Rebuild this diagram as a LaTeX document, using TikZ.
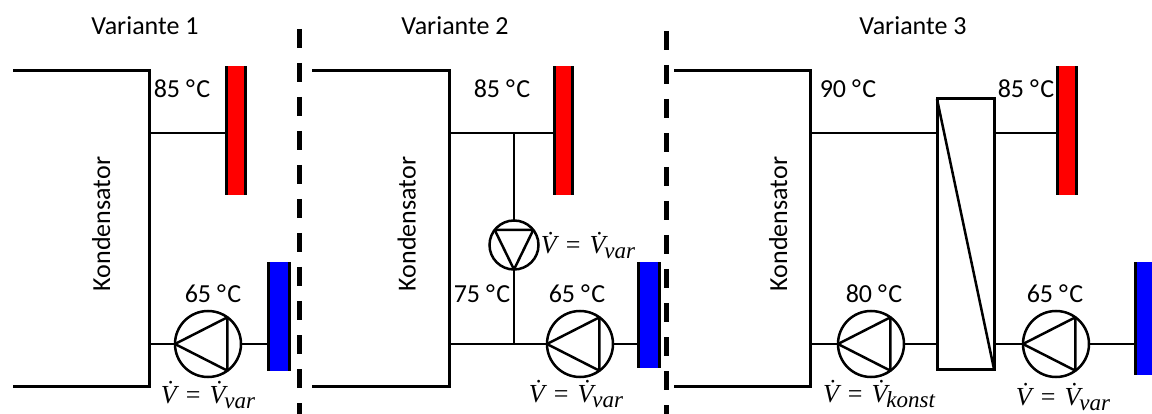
\documentclass[tikz,border=0pt]{standalone}
\usepackage{fontspec}
\setmainfont{Carlito}
\newfontfamily\flowfont{Liberation Serif}
\newcommand{\dotV}{\makebox[0pt][l]{\kern5.5pt\raisebox{4.5pt}{\upshape ˙}}V}
\newcommand{\flowtxt}[1]{{\flowfont\itshape\dotV\hspace{9pt}\upshape=\hspace{9pt}\itshape\dotV\hspace{-1pt}\raisebox{-5pt}{\fontsize{23}{26}\selectfont #1}}}
\newcommand{\degC}{°\kern1.5pt C}
\tikzset{
  cond/.style={line width=3pt,line join=miter},
  pipe/.style={line width=2pt},
  pumpc/.style={circle,draw,line width=2.5pt,minimum size=#1,inner sep=0pt,outer sep=0pt},
  tri/.style={line width=2.5pt,line join=round},
  lab/.style={anchor=base,inner sep=0pt,font=\fontsize{26}{30}\selectfont},
  mlab/.style={anchor=base,inner sep=0pt,font=\fontsize{26}{30}\selectfont},
  condlab/.style={anchor=base,rotate=90,inner sep=0pt,font=\fontsize{26}{30}\selectfont},
  radbase/.style={rectangle,inner sep=0pt,outer sep=0pt,minimum width=#1},
  barl/.style={path picture={\fill[black] (path picture bounding box.south west) rectangle ([xshift=3.2pt]path picture bounding box.north west);}},
  barr/.style={path picture={\fill[black] (path picture bounding box.south west) rectangle ([xshift=3.2pt]path picture bounding box.north west);
    \fill[black] (path picture bounding box.south east) rectangle ([xshift=-3.2pt]path picture bounding box.north east);}},
  sep/.style={line width=5pt,dash pattern=on 19pt off 15pt},
  hx/.style={rectangle,draw,line width=3pt,inner sep=0pt,outer sep=0pt,minimum width=57pt,minimum height=270pt},
}
\begin{document}
\begin{tikzpicture}[x=1pt,y=-1pt]
\useasboundingbox (0,0) rectangle (1152,414);
% separators
\coordinate (s1a) at (299,29); \coordinate (s1b) at (299,414);
\coordinate (s2a) at (666,31); \coordinate (s2b) at (666,414);
\draw[sep] (s1a) -- (s1b);
\draw[sep] (s2a) -- (s2b);
% headings
\node[lab] (t1) at (145,35) {Variante 1};
\node[lab] (t2) at (455,35) {Variante 2};
\node[lab] (t3) at (913,35) {Variante 3};
% condensers
\coordinate (c1tl) at (13,71);  \coordinate (c1tr) at (149,71);
\coordinate (c1br) at (149,386);\coordinate (c1bl) at (13,386);
\coordinate (c1u) at (149,133); \coordinate (c1d) at (149,344);
\draw[cond] (c1tl) -- (c1tr) -- (c1br) -- (c1bl);
\coordinate (c2tl) at (312,71); \coordinate (c2tr) at (449,71);
\coordinate (c2br) at (449,386);\coordinate (c2bl) at (312,386);
\coordinate (c2u) at (449,133); \coordinate (c2d) at (449,344);
\draw[cond] (c2tl) -- (c2tr) -- (c2br) -- (c2bl);
\coordinate (c3tl) at (674,71); \coordinate (c3tr) at (810,71);
\coordinate (c3br) at (810,386);\coordinate (c3bl) at (674,386);
\coordinate (c3u) at (810,133); \coordinate (c3d) at (810,344);
\draw[cond] (c3tl) -- (c3tr) -- (c3br) -- (c3bl);
\node[condlab] (k1) at (110,224) {Kondensator};
\node[condlab] (k2) at (415.5,224) {Kondensator};
\node[condlab] (k3) at (787,224) {Kondensator};
% radiators
\node[radbase=22pt,minimum height=129pt,fill=red,barr] (r1) at (236,130.5) {};
\node[radbase=24pt,minimum height=109pt,fill=blue,barr] (b1) at (279,316.5) {};
\node[radbase=21pt,minimum height=129pt,fill=red,barr] (r2) at (563.5,130.5) {};
\node[radbase=24pt,minimum height=106pt,fill=blue,barr] (b2) at (649,315) {};
\node[radbase=22pt,minimum height=129pt,fill=red,barr] (r3) at (1067,130.5) {};
\node[radbase=18pt,minimum height=113pt,fill=blue,barl] (b3) at (1143,318.5) {};
% pumps
\node[pumpc=66pt] (p1) at (208,344) {};
\node[pumpc=66pt] (p2) at (580,344) {};
\node[pumpc=49pt] (p5) at (514,245) {};
\node[pumpc=66pt] (p3) at (871,344) {};
\node[pumpc=66pt] (p4) at (1056,344) {};
\foreach \p in {p1,p2,p3,p4}{\draw[tri] (\p.180) -- (\p.54) -- (\p.-54) -- cycle;}
\draw[tri] (p5.-90) -- (p5.142) -- (p5.38) -- cycle;
% heat exchanger
\node[hx] (h) at (965.5,234) {};
\draw[pipe,line width=2.5pt] (h.north west) -- (h.south east);
% pipes variant 1
\draw[pipe] (c1u) -- (r1.west |- c1u);
\draw[pipe] (c1d) -- (p1.west);
\draw[pipe] (p1.east) -- (b1.west |- p1.east);
% pipes variant 2
\coordinate (j2u) at (514,133); \coordinate (j2d) at (514,344);
\draw[pipe] (c2u) -- (r2.west |- c2u);
\draw[pipe] (c2d) -- (p2.west);
\draw[pipe] (p2.east) -- (b2.west |- p2.east);
\draw[pipe] (j2u) -- (p5.north);
\draw[pipe] (p5.south) -- (j2d);
% pipes variant 3
\draw[pipe] (c3u) -- (h.west |- c3u);
\draw[pipe] (h.east |- c3u) -- (r3.west |- c3u);
\draw[pipe] (c3d) -- (p3.west);
\draw[pipe] (p3.east) -- (h.west |- p3.east);
\draw[pipe] (h.east |- p4.west) -- (p4.west);
\draw[pipe] (p4.east) -- (b3.west |- p4.east);
% temperatures
\node[lab] (l1) at (182,98) {85 \degC};
\node[lab] (l2) at (213,302) {65 \degC};
\node[lab] (l3) at (502,98) {85 \degC};
\node[lab] (l4) at (482,302) {75 \degC};
\node[lab] (l5) at (577,302) {65 \degC};
\node[lab] (l6) at (848,98) {90 \degC};
\node[lab] (l7) at (1026,98) {85 \degC};
\node[lab] (l8) at (874,302) {80 \degC};
\node[lab] (l9) at (1055,302) {65 \degC};
% flow rates
\node[mlab] (m1) at (208,403) {\flowtxt{var}};
\node[mlab] (m2) at (576,402) {\flowtxt{var}};
\node[mlab] (m5) at (588,254) {\flowtxt{var}};
\node[mlab] (m3) at (879,402) {\flowtxt{konst}};
\node[mlab] (m4) at (1063,405) {\flowtxt{var}};
\end{tikzpicture}
\end{document}
